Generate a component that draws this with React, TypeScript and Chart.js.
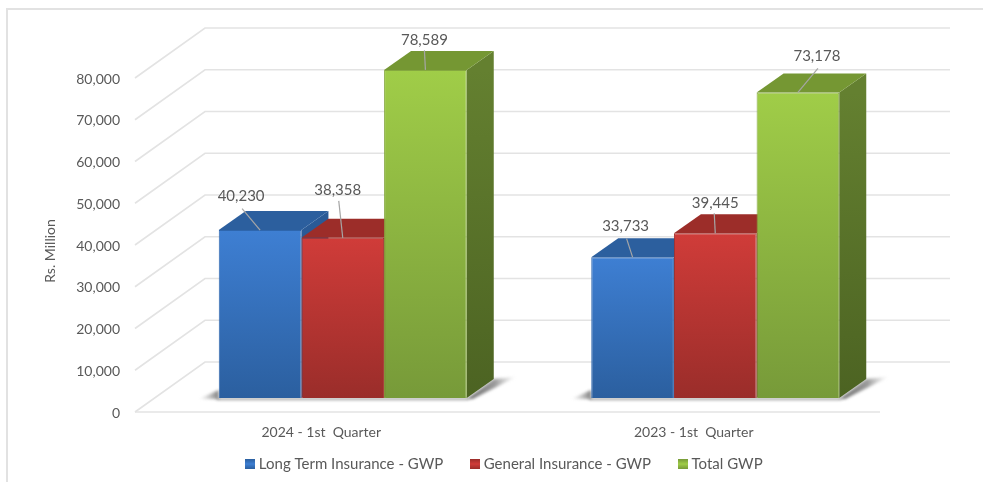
import React, { useEffect, useRef } from "react";
import { Chart, registerables } from "chart.js";

Chart.register(...registerables);

const categories = ["2024 - 1st  Quarter", "2023 - 1st  Quarter"];
const longTerm = [40230, 33733];
const general = [38358, 39445];
const total = [78589, 73178];
const yTicksMax = 80000;
const yStep = 10000;

const seriesNames = ["Long Term Insurance - GWP", "General Insurance - GWP", "Total GWP"];
const palette = [
  { hi: "#3e7fd3", lo: "#2b5f9f", top: "#2c5f9e", sideHi: "#2a5a96", sideLo: "#234c80", edge: "#2e66ad" },
  { hi: "#d03c39", lo: "#9a2d2a", top: "#9c2d29", sideHi: "#8a2825", sideLo: "#702020", edge: "#a3302d" },
  { hi: "#a0cd48", lo: "#779a39", top: "#759733", sideHi: "#648030", sideLo: "#4c6322", edge: "#85a83f" },
];

// label centre offset from the bar's top-centre and leader start offset from the label centre, [dataset][category]
const labelShift = [
  [[-19, -33.5, 1, 12], [-7, -31.5, 1, 13]],
  [[-5, -48, 1, 11], [0, -30, -1, 10]],
  [[-1, -29.5, 0, 10], [19, -36, 1, 12]],
];

const FONT = "Lato, Carlito, sans-serif";
const TEXT = "#595959";
const GRID = "#e3e3e3";
const WALL = { dx: 70, dy: -50 };
const FRONT = { dx: 21.5, dy: -14 };
const DEPTH = { dx: 27, dy: -19 };

function swatch(hi: string, lo: string) {
  const c = document.createElement("canvas");
  c.width = 10;
  c.height = 10;
  const x = c.getContext("2d")!;
  const g = x.createLinearGradient(0, 0, 0, 10);
  g.addColorStop(0, lo);
  g.addColorStop(0.5, hi);
  g.addColorStop(1, lo);
  x.fillStyle = g;
  x.fillRect(0, 0, 10, 10);
  return c;
}

function poly(ctx: CanvasRenderingContext2D, pts: number[][], fill: any) {
  ctx.beginPath();
  pts.forEach((p, i) => (i ? ctx.lineTo(p[0], p[1]) : ctx.moveTo(p[0], p[1])));
  ctx.closePath();
  ctx.fillStyle = fill;
  ctx.fill();
}

const wallPlugin = {
  id: "wall",
  afterLayout(chart: any) {
    const lg = chart.legend;
    const pad = lg.options.labels.padding;
    const size = lg.options.labels.font.size;
    lg.right = chart.width;
    lg.left = 28;
    lg.width = lg.right - lg.left;
    lg.top = 464 - pad - size / 2;
    lg.bottom = lg.top + lg.height;
  },
  beforeDatasetsDraw(chart: any) {
    const { ctx, chartArea, scales } = chart;
    const y = scales.y;
    ctx.save();
    ctx.strokeStyle = GRID;
    ctx.lineWidth = 1.6;
    y.ticks.forEach((t: any) => {
      const py = y.getPixelForValue(t.value);
      ctx.beginPath();
      ctx.moveTo(chartArea.left, py);
      ctx.lineTo(chartArea.left + WALL.dx, py + WALL.dy);
      ctx.lineTo(chartArea.right + WALL.dx, py + WALL.dy);
      ctx.stroke();
    });
    ctx.beginPath();
    const py0 = y.getPixelForValue(0);
    ctx.moveTo(chartArea.left, py0);
    ctx.lineTo(chartArea.right, py0);
    ctx.stroke();
    ctx.restore();

    ctx.save();
    ctx.translate(FRONT.dx, FRONT.dy);
    // floor shadows
    categories.forEach((_, c) => {
      const first = chart.getDatasetMeta(0).data[c];
      const last = chart.getDatasetMeta(2).data[c];
      const l = first.x - first.width / 2;
      const r = last.x + last.width / 2;
      const b = first.base;
      ctx.save();
      ctx.filter = "blur(1.8px)";
      const gr = ctx.createLinearGradient(r, 0, r + DEPTH.dx + 24, 0);
      gr.addColorStop(0, "rgba(70,70,70,0.8)");
      gr.addColorStop(0.55, "rgba(100,100,100,0.65)");
      gr.addColorStop(1, "rgba(170,170,170,0)");
      poly(ctx, [[r, b + 1], [r + DEPTH.dx, b + DEPTH.dy], [r + DEPTH.dx + 22, b + DEPTH.dy - 2], [r + 6, b + 1]], gr);
      const gl = ctx.createLinearGradient(l - 20, 0, l, 0);
      gl.addColorStop(0, "rgba(140,140,140,0)");
      gl.addColorStop(1, "rgba(80,80,80,0.75)");
      poly(ctx, [[l - 20, b + 1], [l, b - 8], [l, b + 1]], gl);
      poly(ctx, [[l - 2, b], [r + 2, b], [r + 2, b + 2], [l - 2, b + 2]], "rgba(110,110,110,0.7)");
      ctx.restore();
    });
    // side and top faces, left to right
    categories.forEach((_, c) => {
      palette.forEach((col, d) => {
        const el = chart.getDatasetMeta(d).data[c];
        const l = el.x - el.width / 2;
        const r = el.x + el.width / 2;
        const sg = ctx.createLinearGradient(0, el.y, 0, el.base);
        sg.addColorStop(0, col.sideHi);
        sg.addColorStop(1, col.sideLo);
        poly(ctx, [[r, el.y], [r + DEPTH.dx, el.y + DEPTH.dy], [r + DEPTH.dx, el.base + DEPTH.dy], [r, el.base]], sg);
        poly(ctx, [[l, el.y], [l + DEPTH.dx, el.y + DEPTH.dy], [r + DEPTH.dx, el.y + DEPTH.dy], [r, el.y]], col.top);
      });
    });
  },
  afterDatasetsDraw(chart: any) {
    const { ctx } = chart;
    palette.forEach((_, d) => {
      chart.getDatasetMeta(d).data.forEach((el: any, c: number) => {
        const s = labelShift[d][c];
        const lx = el.x + s[0];
        const ly = el.y + s[1];
        ctx.strokeStyle = "#a6a6a6";
        ctx.lineWidth = 1.2;
        ctx.beginPath();
        ctx.moveTo(lx + s[2], ly + s[3]);
        ctx.lineTo(el.x, el.y);
        ctx.stroke();
        ctx.fillStyle = TEXT;
        ctx.font = `15px ${FONT}`;
        ctx.textAlign = "center";
        ctx.textBaseline = "middle";
        ctx.fillText(el.$context.raw.toLocaleString("en-US"), lx, ly);
      });
    });
    ctx.restore();
  },
};

function makeDataset(i: number, values: number[]) {
  const col = palette[i];
  return {
    label: seriesNames[i],
    data: values,
    borderWidth: 1,
    borderColor: col.edge,
    backgroundColor(context: any) {
      const { chart, raw } = context;
      const y = chart.scales?.y;
      if (!y || typeof raw !== "number") return col.hi;
      const g = chart.ctx.createLinearGradient(0, y.getPixelForValue(raw), 0, y.getPixelForValue(0));
      g.addColorStop(0, col.hi);
      g.addColorStop(1, col.lo);
      return g;
    },
  };
}

export default function App() {
  const ref = useRef<HTMLCanvasElement>(null);
  useEffect(() => {
    const swatches = palette.map((p) => swatch(p.hi, p.lo));
    const chart = new Chart(ref.current!, {
      type: "bar",
      data: {
        labels: categories,
        datasets: [makeDataset(0, longTerm), makeDataset(1, general), makeDataset(2, total)],
      },
      plugins: [wallPlugin],
      options: {
        responsive: false,
        animation: false,
        layout: { padding: { left: 24, right: 103, top: 78, bottom: -24 } },
        datasets: { bar: { categoryPercentage: 0.6658, barPercentage: 1 } },
        plugins: {
          tooltip: { enabled: false },
          legend: {
            position: "bottom",
            labels: {
              color: TEXT,
              font: { family: FONT, size: 15 },
              usePointStyle: true,
              pointStyleWidth: 3,
              padding: 30,
              generateLabels: () =>
                seriesNames.map((n, i) => ({
                  text: n,
                  fillStyle: palette[i].hi,
                  strokeStyle: palette[i].hi,
                  lineWidth: 0,
                  pointStyle: swatches[i],
                  fontColor: TEXT,
                  datasetIndex: i,
                })),
            },
          },
        },
        scales: {
          x: {
            grid: { display: false, drawTicks: false },
            border: { display: false },
            ticks: { color: TEXT, font: { family: FONT, size: 14 }, padding: 12, maxRotation: 0 },
            afterFit(s: any) {
              s.height = 482 - 412 + 24 - s.chart.legend.height;
            },
          },
          y: {
            min: 0,
            max: yTicksMax,
            grid: { display: false, drawTicks: false },
            border: { display: false },
            ticks: {
              stepSize: yStep,
              color: TEXT,
              font: { family: FONT, size: 14 },
              padding: 15,
              labelOffset: 1,
              callback: (v: any) => Number(v).toLocaleString("en-US"),
            },
            title: {
              display: true,
              text: "Rs. Million",
              color: TEXT,
              font: { family: FONT, size: 14, weight: "normal" },
              padding: { top: 18, bottom: 0 },
            },
            afterFit(s: any) {
              s.width = 111;
              if (!s.__titleShifted) {
                s.__titleShifted = true;
                const drawTitle = s.drawTitle;
                s.drawTitle = function () {
                  const ctx = this.ctx;
                  ctx.save();
                  ctx.translate(0, 6);
                  drawTitle.call(this);
                  ctx.restore();
                };
              }
            },
          },
        },
      },
    } as any);
    return () => chart.destroy();
  }, []);
  return (
    <div style={{ position: "absolute", left: 0, top: 0, width: 983, height: 482, overflow: "hidden", background: "#fff" }}>
      <div style={{ position: "absolute", left: 6, top: 8, width: 990, height: 490, borderLeft: "2px solid #e2e2e2", borderTop: "2px solid #e2e2e2" }} />
      <canvas ref={ref} width={983} height={482} style={{ position: "absolute", left: 0, top: 0, filter: "blur(0.4px)" }} />
    </div>
  );
}
